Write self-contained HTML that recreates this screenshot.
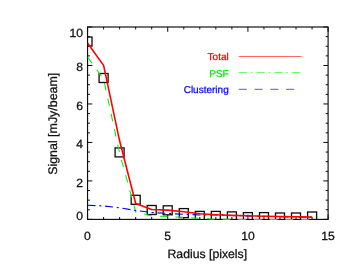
<!DOCTYPE html><html><head><meta charset="utf-8"><style>html,body{margin:0;padding:0;background:#fff}svg{display:block;will-change:transform}text{font-family:"Liberation Sans",sans-serif;text-rendering:geometricPrecision;fill:#111;stroke:#111;stroke-width:0.27px}</style></head><body>
<svg width="354" height="275" viewBox="0 0 354 275">
<rect width="354" height="275" fill="#fff"/>
<defs><clipPath id="c"><rect x="87.55" y="27.0" width="240.55" height="193.00"/></clipPath></defs>
<rect x="87.55" y="27.0" width="240.55" height="192.40" fill="none" stroke="#0c0c0c" stroke-width="1.15"/>
<path d="M87.55 219.4v-4.8M87.55 27.0v4.8M103.59 219.4v-2.4M103.59 27.0v2.4M119.62 219.4v-2.4M119.62 27.0v2.4M135.66 219.4v-2.4M135.66 27.0v2.4M151.70 219.4v-2.4M151.70 27.0v2.4M167.73 219.4v-4.8M167.73 27.0v4.8M183.77 219.4v-2.4M183.77 27.0v2.4M199.81 219.4v-2.4M199.81 27.0v2.4M215.84 219.4v-2.4M215.84 27.0v2.4M231.88 219.4v-2.4M231.88 27.0v2.4M247.92 219.4v-4.8M247.92 27.0v4.8M263.95 219.4v-2.4M263.95 27.0v2.4M279.99 219.4v-2.4M279.99 27.0v2.4M296.03 219.4v-2.4M296.03 27.0v2.4M312.06 219.4v-2.4M312.06 27.0v2.4M328.10 219.4v-4.8M328.10 27.0v4.8M87.55 219.40h4.8M328.1 219.40h-4.8M87.55 209.78h2.4M328.1 209.78h-2.4M87.55 200.16h2.4M328.1 200.16h-2.4M87.55 190.54h2.4M328.1 190.54h-2.4M87.55 180.92h4.8M328.1 180.92h-4.8M87.55 171.30h2.4M328.1 171.30h-2.4M87.55 161.68h2.4M328.1 161.68h-2.4M87.55 152.06h2.4M328.1 152.06h-2.4M87.55 142.44h4.8M328.1 142.44h-4.8M87.55 132.82h2.4M328.1 132.82h-2.4M87.55 123.20h2.4M328.1 123.20h-2.4M87.55 113.58h2.4M328.1 113.58h-2.4M87.55 103.96h4.8M328.1 103.96h-4.8M87.55 94.34h2.4M328.1 94.34h-2.4M87.55 84.72h2.4M328.1 84.72h-2.4M87.55 75.10h2.4M328.1 75.10h-2.4M87.55 65.48h4.8M328.1 65.48h-4.8M87.55 55.86h2.4M328.1 55.86h-2.4M87.55 46.24h2.4M328.1 46.24h-2.4M87.55 36.62h2.4M328.1 36.62h-2.4M87.55 27.00h4.8M328.1 27.00h-4.8" stroke="#0c0c0c" stroke-width="1.0" fill="none"/>
<g clip-path="url(#c)" fill="none">
<rect x="83.0" y="37.0" width="9" height="9" stroke="#0c0c0c" stroke-width="1.3"/>
<rect x="99.1" y="73.5" width="9" height="9" stroke="#0c0c0c" stroke-width="1.3"/>
<rect x="115.1" y="147.9" width="9" height="9" stroke="#0c0c0c" stroke-width="1.3"/>
<rect x="131.2" y="195.3" width="9" height="9" stroke="#0c0c0c" stroke-width="1.3"/>
<rect x="147.2" y="205.5" width="9" height="9" stroke="#0c0c0c" stroke-width="1.3"/>
<rect x="163.2" y="205.8" width="9" height="9" stroke="#0c0c0c" stroke-width="1.3"/>
<rect x="179.3" y="208.6" width="9" height="9" stroke="#0c0c0c" stroke-width="1.3"/>
<rect x="195.3" y="211.4" width="9" height="9" stroke="#0c0c0c" stroke-width="1.3"/>
<rect x="211.3" y="211.4" width="9" height="9" stroke="#0c0c0c" stroke-width="1.3"/>
<rect x="227.4" y="211.9" width="9" height="9" stroke="#0c0c0c" stroke-width="1.3"/>
<rect x="243.4" y="212.6" width="9" height="9" stroke="#0c0c0c" stroke-width="1.3"/>
<rect x="259.5" y="212.6" width="9" height="9" stroke="#0c0c0c" stroke-width="1.3"/>
<rect x="275.5" y="213.0" width="9" height="9" stroke="#0c0c0c" stroke-width="1.3"/>
<rect x="291.5" y="213.0" width="9" height="9" stroke="#0c0c0c" stroke-width="1.3"/>
<rect x="307.6" y="212.0" width="9" height="9" stroke="#0c0c0c" stroke-width="1.3"/>
<polyline points="87.5,57 103.6,79.2 119.6,153 135.7,212 151.7,215.9 167.7,216.6 183.8,217.4 199.8,218.4 215.8,219.3 231.9,219.4 247.9,219.4 264.0,219.4 280.0,219.4 296.0,219.4 312.1,219.4" stroke="#00f000" stroke-width="1.05" stroke-dasharray="7.6 8.12"/>
<polyline points="87.5,205.3 103.6,205.9 119.6,207.8 135.7,210.5 151.7,212.5 167.7,213.4 183.8,214.3 199.8,215 215.8,214.9 231.9,215.55 247.9,215.95 264.0,216.35 280.0,216.65 296.0,216.95 312.1,217.25" stroke="#0000ff" stroke-width="1.15" stroke-dasharray="8 3.7 2.2 3.7"/>
<polyline points="87.5,43 103.6,65.4 119.6,140.8 135.7,203.5 151.7,209.5 167.7,210.1 183.8,211.8 199.8,213.7 215.8,214.7 231.9,215.4 247.9,215.8 264.0,216.2 280.0,216.5 296.0,216.8 312.1,217.1" stroke="#ff0000" stroke-width="1.6" stroke-linejoin="round"/>
</g>
<text transform="translate(83.1,36.8) scale(1.02,1)" font-size="11.9" text-anchor="end">10</text>
<text transform="translate(83.1,71.2) scale(1.02,1)" font-size="11.9" text-anchor="end">8</text>
<text transform="translate(83.1,109.9) scale(1.02,1)" font-size="11.9" text-anchor="end">6</text>
<text transform="translate(83.1,148.3) scale(1.02,1)" font-size="11.9" text-anchor="end">4</text>
<text transform="translate(83.1,186.8) scale(1.02,1)" font-size="11.9" text-anchor="end">2</text>
<text transform="translate(83.1,219.9) scale(1.02,1)" font-size="11.9" text-anchor="end">0</text>
<text transform="translate(87.5,240.3) scale(1.02,1)" font-size="11.9" text-anchor="middle">0</text>
<text transform="translate(167.7,240.3) scale(1.02,1)" font-size="11.9" text-anchor="middle">5</text>
<text transform="translate(247.9,240.3) scale(1.02,1)" font-size="11.9" text-anchor="middle">10</text>
<text transform="translate(328.1,240.3) scale(1.02,1)" font-size="11.9" text-anchor="middle">15</text>
<text x="207.3" y="258.3" font-size="12.1" text-anchor="middle" textLength="79.6" lengthAdjust="spacingAndGlyphs">Radius [pixels]</text>
<text transform="translate(56.6,123.8) rotate(-90)" font-size="12.4" text-anchor="middle" textLength="102" lengthAdjust="spacingAndGlyphs">Signal [mJy/beam]</text>
<text transform="translate(228.7,60.2) scale(1.0,1)" font-size="10.0" text-anchor="end" style="fill:#ff0000;stroke:#ff0000;stroke-width:0.25px">Total</text>
<text transform="translate(228.7,76.6) scale(1.0,1)" font-size="10.0" text-anchor="end" style="fill:#00f000;stroke:#00f000;stroke-width:0.25px">PSF</text>
<text transform="translate(228.7,92.9) scale(1.0,1)" font-size="10.0" text-anchor="end" style="fill:#0000ff;stroke:#0000ff;stroke-width:0.25px">Clustering</text>
<path d="M238.8 56.5H301.7" stroke="#ff4040" stroke-width="0.8"/>
<path d="M238.8 72.6H301" stroke="#40ff40" stroke-width="0.9" stroke-dasharray="8 4.1 1.6 4.1"/>
<path d="M238.8 89.3H301" stroke="#4040ff" stroke-width="0.9" stroke-dasharray="8 7.8"/>
</svg></body></html>
